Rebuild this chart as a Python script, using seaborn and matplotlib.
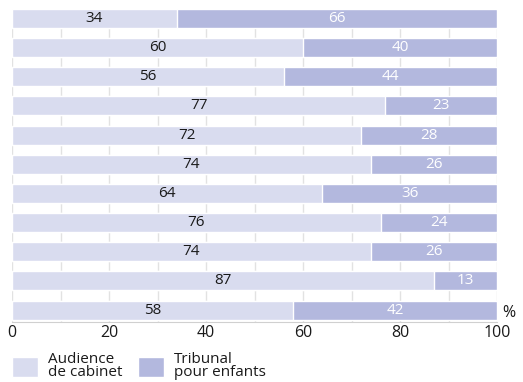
import pandas as pd
import matplotlib.pyplot as plt
import seaborn as sns
from matplotlib.patches import Patch

# values per row (percent)
rows = [f"r{i}" for i in range(11)]
cabinet = [34, 60, 56, 77, 72, 74, 64, 76, 74, 87, 58]
tribunal = [66, 40, 44, 23, 28, 26, 36, 24, 26, 13, 42]
series_labels = ["Audience\nde cabinet", "Tribunal\npour enfants"]
x_ticks = [0, 20, 40, 60, 80, 100]

light = "#d9dcef"
dark = "#b3b8de"

sns.set_style("white")
plt.rcParams["font.family"] = ["Open Sans", "DejaVu Sans"]

df = pd.DataFrame({"row": rows, "cabinet": cabinet, "tribunal": tribunal})
df["total"] = df["cabinet"] + df["tribunal"]

fig = plt.figure(figsize=(5.23, 3.82), dpi=100)
ax = fig.add_axes([12 / 523, 1 - 322 / 382, 485 / 523, 313 / 382])

# stacked: full bar in dark, then the first part in light on top
sns.barplot(data=df, x="total", y="row", orient="h", color=dark, width=0.65,
            saturation=1, ax=ax, zorder=2)
sns.barplot(data=df, x="cabinet", y="row", orient="h", color=light, width=0.65,
            saturation=1, ax=ax, zorder=3)

for i, (a, b) in enumerate(zip(cabinet, tribunal)):
    ax.text(a / 2, i, str(a), ha="center", va="center", fontsize=11, color="#1a1a1a", zorder=4)
    ax.text(a + b / 2, i, str(b), ha="center", va="center", fontsize=11, color="white", zorder=4)

ax.set_xlim(0, 100)
ax.set_ylim(10.41, -0.325)
ax.set_xticks(x_ticks)
ax.set_xticks(range(0, 101, 10), minor=True)
ax.set_yticks([])
ax.set_xlabel("")
ax.set_ylabel("")
ax.grid(axis="x", which="both", color="#e2e2e2", linewidth=1, zorder=0)
ax.tick_params(axis="x", which="both", length=0, pad=2, labelsize=11.5, colors="#1a1a1a")
for s in ["top", "right", "left"]:
    ax.spines[s].set_visible(False)
ax.spines["bottom"].set_color("#d0d0d0")
ax.set_axisbelow(True)

fig.text(509 / 523, 1 - 313 / 382, "%", ha="center", va="center", fontsize=11.5, color="#1a1a1a")

handles = [Patch(facecolor=light), Patch(facecolor=dark)]
fig.legend(handles, series_labels, loc="lower left", bbox_to_anchor=(12 / 523, 1 - 380 / 382),
           ncol=2, frameon=False, fontsize=11, handlelength=1.7, handleheight=1.65,
           handletextpad=0.65, columnspacing=1.0, labelspacing=0.2,
           borderpad=0, borderaxespad=0)
for t in fig.legends[0].get_texts():
    t.set_linespacing(0.8)
    t.set_color("#1a1a1a")

fig.savefig("out.png", dpi=100)
